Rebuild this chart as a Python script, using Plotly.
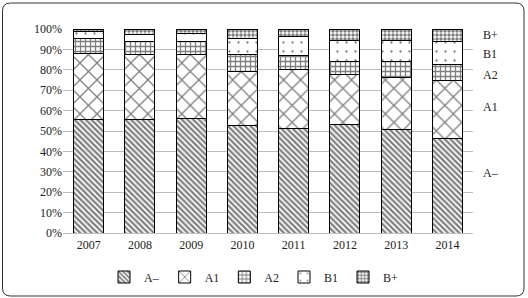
import plotly.graph_objects as go

years = ["2007", "2008", "2009", "2010", "2011", "2012", "2013", "2014"]
a_minus = [55.4, 55.7, 56.0, 52.5, 51.3, 53.4, 50.5, 46.4]
a1 = [32.7, 32.0, 31.6, 26.6, 28.9, 24.1, 25.8, 28.3]
a2 = [7.3, 6.0, 6.2, 8.2, 7.0, 6.5, 7.7, 7.7]
b1 = [3.6, 3.7, 4.0, 8.2, 9.3, 10.6, 10.3, 11.4]
b_plus = [1.0, 2.6, 2.2, 4.5, 3.5, 5.4, 5.7, 6.2]

series_names = ["A–", "A1", "A2", "B1", "B+"]
series_values = [a_minus, a1, a2, b1, b_plus]
label_y = [29.5, 62.0, 77.5, 87.7, 97.0]

patterns = [
    dict(shape="\\", size=4, solidity=0.55),
    dict(shape="x", size=12, solidity=0.2),
    dict(shape="+", size=5, solidity=0.45),
    dict(shape=".", size=9, solidity=0.05),
    dict(shape=".", size=4, solidity=0.6),
]

W, H = 528, 298
ml, mr, mt, mb = 63, 55, 29, 65
pw, ph = W - ml - mr, H - mt - mb
def px(x):
    return (x - ml) / pw
def py(y):
    return (H - mb - y) / ph

fig = go.Figure()
for name, vals, pat in zip(series_names, series_values, patterns):
    fig.add_trace(go.Bar(
        x=years, y=vals, name=name,
        marker=dict(color="white", line=dict(color="black", width=1),
                    pattern=dict(fgcolor="black", bgcolor="white", fillmode="overlay", **pat)),
    ))

font_family = "Liberation Serif, DejaVu Serif, serif"
for name, yv in zip(series_names, label_y):
    fig.add_annotation(x=px(481), xref="paper", y=yv, yref="y", text=name,
                       showarrow=False, xanchor="left", font=dict(size=12, color="#222"))

x0, x1, y0, y1 = px(2.5), px(524), py(296), py(3)
rx, ry = 8 / pw, 8 / ph
path = (f"M {x0+rx},{y1} L {x1-rx},{y1} Q {x1},{y1} {x1},{y1-ry} "
        f"L {x1},{y0+ry} Q {x1},{y0} {x1-rx},{y0} L {x0+rx},{y0} "
        f"Q {x0},{y0} {x0},{y0+ry} L {x0},{y1-ry} Q {x0},{y1} {x0+rx},{y1} Z")
fig.add_shape(type="path", path=path, xref="paper", yref="paper",
              line=dict(color="#333333", width=1), layer="below")

fig.update_layout(
    width=W, height=H, barmode="stack", bargap=0.415,
    margin=dict(l=ml, r=mr, t=mt, b=mb, autoexpand=False),
    paper_bgcolor="white", plot_bgcolor="white",
    font=dict(family=font_family, size=12, color="#222"),
    showlegend=True,
    legend=dict(orientation="h", x=px(254), xanchor="center", y=py(277),
                yanchor="middle", font=dict(size=12), itemwidth=30,
                traceorder="normal", bgcolor="rgba(0,0,0,0)"),
)
fig.update_yaxes(range=[0, 100], dtick=10, ticksuffix="%", showgrid=True,
                 gridcolor="#bdbdbd", gridwidth=1.3, zeroline=False,
                 showline=False, ticks="", automargin=False)
fig.update_xaxes(showline=True, linecolor="#bdbdbd", linewidth=1.3, ticks="",
                 automargin=False)

fig.write_html("out.html", config={"displayModeBar": False},
               post_script="document.body.style.margin='0px';")
